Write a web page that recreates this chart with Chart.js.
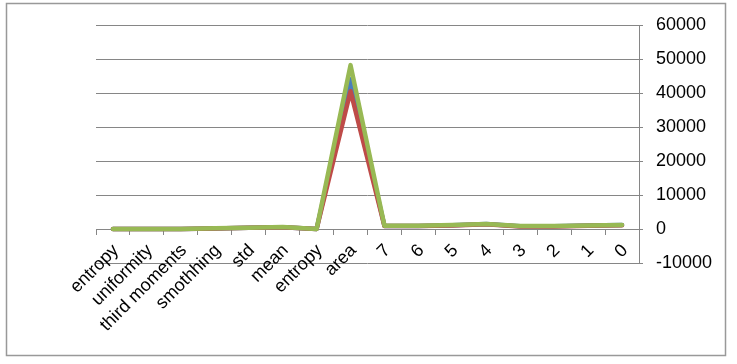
<!DOCTYPE html>
<html>
<head>
<meta charset="utf-8">
<title>Feature chart</title>
<script src="https://cdn.jsdelivr.net/npm/chart.js"></script>
<style>
  html, body { margin: 0; padding: 0; background: #fff; }
  #wrap { width: 737px; height: 364px; position: relative; }
</style>
</head>
<body>
<div id="wrap"><canvas id="featChart" width="737" height="364"></canvas></div>
<script>
// categories along the x axis
const categories = ['entropy', 'uniformity', 'third moments', 'smothhing', 'std', 'mean',
  'entropy', 'area', '7', '6', '5', '4', '3', '2', '1', '0'];

// series values
const seriesBlue  = [0, 0, 0, 150, 350, 550, 0, 44000, 900, 900, 1100, 1450, 800, 800, 1000, 1150];
const seriesRed   = [0, 0, 0, 150, 350, 550, 0, 40500, 850, 850, 1050, 1400, 750, 750, 950, 1100];
const seriesGreen = [0, 0, 0, 200, 400, 600, 0, 48200, 950, 950, 1150, 1500, 850, 850, 1000, 1200];

// y axis ticks
const yTicks = [-10000, 0, 10000, 20000, 30000, 40000, 50000, 60000];

const axisGrey = '#868686';
const tickFont = { family: '"Liberation Sans", Arial, sans-serif', size: 18 };

// outer frame round the whole chart
const framePlugin = {
  id: 'frame',
  afterDraw(chart) {
    const ctx = chart.ctx;
    ctx.save();
    ctx.strokeStyle = '#999999';
    ctx.lineWidth = 1.5;
    ctx.strokeRect(6.5, 3.5, 719, 352);
    ctx.restore();
  }
};

function makeSeries(data, color, order) {
  return {
    data: data,
    borderColor: color,
    backgroundColor: color,
    borderWidth: 4.5,
    pointRadius: 0,
    tension: 0,
    borderJoinStyle: 'round',
    borderCapStyle: 'round',
    order: order
  };
}

window.addEventListener('DOMContentLoaded', function () {
  const ctx = document.getElementById('featChart').getContext('2d');
  new Chart(ctx, {
    type: 'line',
    data: {
      labels: categories,
      datasets: [
        makeSeries(seriesBlue, '#4A7EBB', 3),
        makeSeries(seriesRed, '#BE4B48', 2),
        makeSeries(seriesGreen, '#98B954', 1)
      ]
    },
    options: {
      responsive: false,
      animation: false,
      layout: { padding: { left: 96, top: 25, right: 0, bottom: 101 } },
      plugins: {
        legend: { display: false },
        tooltip: { enabled: false }
      },
      scales: {
        x: {
          type: 'category',
          position: { y: 0 },
          offset: true,
          grid: { offset: true, drawOnChartArea: false, tickLength: 5, color: axisGrey },
          border: { color: axisGrey },
          ticks: {
            autoSkip: false,
            minRotation: 45,
            maxRotation: 45,
            padding: 6,
            labelOffset: 3,
            color: '#000',
            font: tickFont
          }
        },
        y: {
          position: 'right',
          min: yTicks[0],
          max: yTicks[yTicks.length - 1],
          afterBuildTicks: function (s) { s.ticks = yTicks.map(v => ({ value: v })); },
          grid: { color: axisGrey, tickLength: 4 },
          border: { color: axisGrey },
          ticks: {
            padding: 13,
            color: '#000',
            font: tickFont,
            callback: function (v) { return String(v); }
          },
          afterFit: function (s) { s.width = 98; }
        }
      }
    },
    plugins: [framePlugin]
  });
});
</script>
</body>
</html>
